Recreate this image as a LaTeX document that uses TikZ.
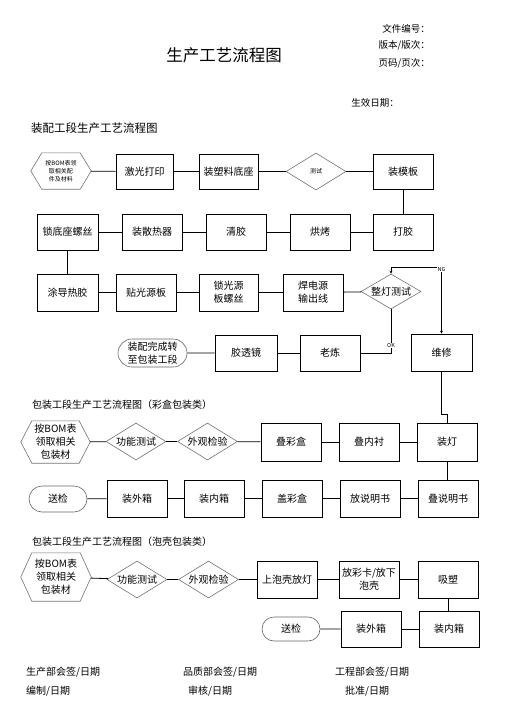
\documentclass[tikz,border=0pt]{standalone}
\usepackage{fontspec}
\setmainfont{Noto Sans CJK SC}
\usetikzlibrary{shapes.geometric,shapes.misc,arrows.meta}
\newcommand\fsz[2]{\fontsize{#1}{#2}\selectfont}
\tikzset{
  ln/.style={line width=0.8pt, draw=black},
  box/.style={rectangle, draw=black, line width=0.8pt, minimum width=60pt, minimum height=36pt,
    inner sep=1pt, align=center, font=\fsz{10}{13}},
  dia/.style={diamond, draw=black!55, line width=0.6pt, minimum width=60pt, minimum height=37pt,
    inner sep=0pt, aspect=1.7, align=center, font=\fsz{10}{12}},
  pill/.style={rounded rectangle, draw=black!60, line width=0.6pt, minimum width=60pt, minimum height=26pt,
    inner sep=1pt, align=center, font=\fsz{10}{13}},
  hexa/.style={rectangle, draw=none, inner sep=0pt, align=center, font=\fsz{10}{13}},
  hexline/.style={draw=black!55, line width=0.6pt},
  txt/.style={inner sep=0pt, font=\fsz{10}{12}},
  tag/.style={inner sep=0.4pt, fill=white, font=\fsz{5.5}{6}},
  >={Stealth[length=3pt,width=3pt]}
}
\newcommand\hexdraw[2]{%
  \draw[hexline] (#1.west) -- ([xshift=#2]#1.north west) -- ([xshift=-#2]#1.north east) -- (#1.east)
    -- ([xshift=-#2]#1.south east) -- ([xshift=#2]#1.south west) -- cycle;}
\begin{document}
\begin{tikzpicture}[x=1pt,y=-1pt]
\useasboundingbox[fill=white] (0,0) rectangle (504,713);

% header
\node[inner sep=0pt, font=\fsz{16.5}{18}] (title) at (224,55) {生产工艺流程图};
\node[txt, anchor=east, font=\fsz{9.5}{11}] (h1) at (430,29) {文件编号：};
\node[txt, anchor=east, font=\fsz{9.5}{11}] (h2) at (430,45) {版本/版次：};
\node[txt, anchor=east, font=\fsz{9.5}{11}] (h3) at (430,63) {页码/页次：};
\node[txt, anchor=east, font=\fsz{9.5}{11}] (h4) at (399,103) {生效日期：};
\node[txt, anchor=west, font=\fsz{11.5}{13}] (secA) at (31,128) {装配工段生产工艺流程图};

% section A
\node[hexa, minimum width=60pt, minimum height=36pt, font=\fsz{6}{8}] (hA) at (61,171) {按BOM表领\\取相关配\\件及材料};
\hexdraw{hA}{11pt}
\node[box, minimum width=57pt, minimum height=35pt] (a1) at (144.5,171.5) {激光打印};
\node[box, minimum width=59pt, minimum height=35pt] (a2) at (228.5,171.5) {装塑料底座};
\node[dia, font=\fsz{6}{7}] (a3) at (316,171.5) {测试};
\node[box, minimum height=35pt] (a4) at (403,171.5) {装模板};

\node[box] (b5) at (403,232) {打胶};
\node[box] (b4) at (320,232) {烘烤};
\node[box] (b3) at (236,232) {清胶};
\node[box] (b2) at (152,232) {装散热器};
\node[box, minimum width=61pt] (b1) at (67.5,232) {锁底座螺丝};

\node[box, minimum width=61pt, minimum height=37pt] (c1) at (67.5,292.5) {涂导热胶};
\node[box, minimum height=37pt] (c2) at (146,292.5) {贴光源板};
\node[box, minimum width=59pt, minimum height=37pt] (c3) at (228.5,292.5) {锁光源\\板螺丝};
\node[box, minimum height=37pt] (c4) at (313,292.5) {焊电源\\输出线};
\node[dia, minimum height=35pt] (c5) at (391,291.5) {整灯测试};

\node[pill, minimum width=71pt, minimum height=28pt] (d1) at (152.5,353) {装配完成转\\至包装工段};
\node[box, minimum width=62pt] (d2) at (246,353) {胶透镜};
\node[box] (d3) at (330,353) {老炼};
\node[box, minimum width=61pt, minimum height=37pt] (d4) at (441.5,352.5) {维修};

\draw[ln] (hA) -- (a1);
\draw[ln] (a1) -- (a2);
\draw[ln] (a2) -- (a3);
\draw[ln] (a3) -- (a4);
\draw[ln] (a4) -- (b5);
\draw[ln] (b5) -- (b4);
\draw[ln] (b4) -- (b3);
\draw[ln] (b3) -- (b2);
\draw[ln] (b2) -- (b1);
\draw[ln] (b1) -- (c1);
\draw[ln] (c1) -- (c2);
\draw[ln] (c2) -- (c3);
\draw[ln] (c3) -- (c4);
\draw[ln] (c4) -- (c5);
\draw[ln] (d1) -- (d2);
\draw[ln] (d2) -- (d3);

\coordinate (ngc) at (441.5,267);
\draw[ln, <->] (c5.north) |- (ngc) -- (d4.north);
\node[tag] (ng) at (441.5,269.5) {NG};
\coordinate (okc) at (391,353);
\draw[ln] (c5.south) -- (okc) -- (d3.east);
\node[tag] (ok) at (391,345.5) {OK};

% section B
\node[txt, anchor=west] (secB) at (32,405) {包装工段生产工艺流程图（彩盒包装类）};
\node[hexa, minimum width=69pt, minimum height=42pt] (eH) at (55.5,442) {按BOM表\\领取相关\\包装材};
\hexdraw{eH}{11pt}
\node[dia] (e2) at (136,441.5) {功能测试};
\node[dia] (e3) at (207.5,441.5) {外观检验};
\node[box, minimum height=38pt] (e4) at (291,442) {叠彩盒};
\node[box, minimum height=38pt] (e5) at (369,442) {叠内衬};
\node[box, minimum height=38pt] (e6) at (447,442) {装灯};

\node[pill] (f1) at (58,499) {送检};
\node[box, minimum height=37pt] (f2) at (137,498.5) {装外箱};
\node[box, minimum height=37pt] (f3) at (214,498.5) {装内箱};
\node[box, minimum height=37pt] (f4) at (292,498.5) {盖彩盒};
\node[box, minimum height=37pt] (f5) at (370,498.5) {放说明书};
\node[box, minimum height=37pt] (f6) at (448,498.5) {叠说明书};

\coordinate (r1) at (441.5,414);
\coordinate (r2) at (447,414);
\draw[ln] (d4.south) -- (r1) -- (r2) -- (e6.north);

\draw[ln] (eH) -- (e2);
\draw[ln] (e2) -- (e3);
\draw[ln] (e3) -- (e4);
\draw[ln] (e4) -- (e5);
\draw[ln] (e5) -- (e6);
\draw[ln] (e6.south) -- (e6.south |- f6.north);
\draw[ln] (f6) -- (f5);
\draw[ln] (f5) -- (f4);
\draw[ln] (f4) -- (f3);
\draw[ln] (f3) -- (f2);
\draw[ln] (f2) -- (f1);

% section C
\node[txt, anchor=west] (secC) at (32,542) {包装工段生产工艺流程图（泡壳包装类）};
\node[hexa, minimum width=70pt, minimum height=48pt] (gH) at (56,577) {按BOM表\\领取相关\\包装材};
\hexdraw{gH}{11pt}
\node[dia] (g2) at (137,579.5) {功能测试};
\node[dia] (g3) at (208.5,579.5) {外观检验};
\node[box, minimum height=37pt] (g4) at (287,579.5) {上泡壳放灯};
\node[box, minimum height=37pt] (g5) at (369,579.5) {放彩卡/放下\\泡壳};
\node[box, minimum height=37pt] (g6) at (448,579.5) {吸塑};

\node[pill, minimum height=24pt] (k1) at (291,629) {送检};
\node[box] (k2) at (371,629) {装外箱};
\node[box] (k3) at (449,629) {装内箱};

\draw[ln] (gH) -- (g2);
\draw[ln] (g2) -- (g3);
\draw[ln] (g3) -- (g4);
\draw[ln] (g4) -- (g5);
\draw[ln] (g5) -- (g6);
\draw[ln] (g6.south) -- (g6.south |- k3.north);
\draw[ln] (k3) -- (k2);
\draw[ln] (k2) -- (k1);

% footer
\node[txt, anchor=west] (s1) at (26,672) {生产部会签/日期};
\node[txt, anchor=west] (s2) at (183,672) {品质部会签/日期};
\node[txt, anchor=west] (s3) at (335,672) {工程部会签/日期};
\node[txt, anchor=west] (s4) at (26,691) {编制/日期};
\node[txt, anchor=west] (s5) at (188,691) {审核/日期};
\node[txt, anchor=west] (s6) at (345,691) {批准/日期};
\end{tikzpicture}
\end{document}
